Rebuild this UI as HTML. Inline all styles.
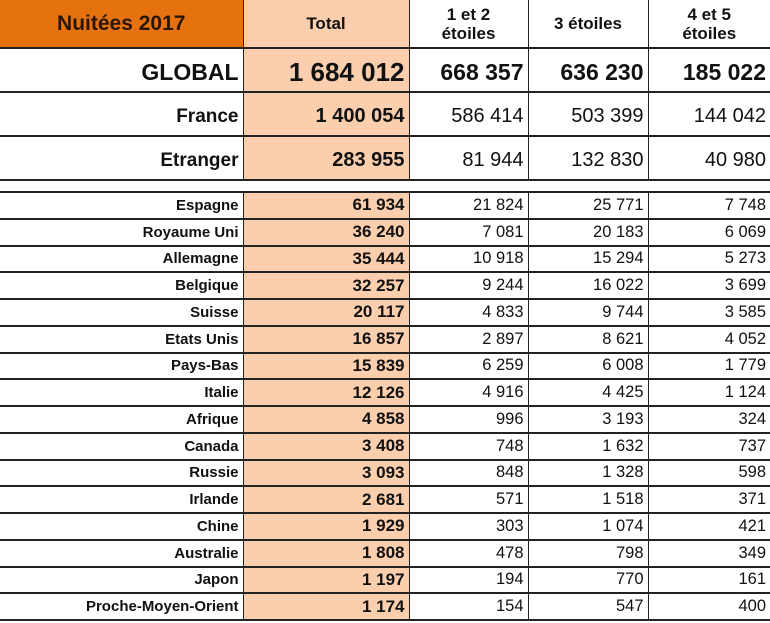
<!DOCTYPE html>
<html><head><meta charset="utf-8"><style>
body{margin:0;width:770px;height:623px;background:#fff;position:relative;overflow:hidden;font-family:"Liberation Sans",Arial,sans-serif;color:#111}
table{position:absolute;left:0;border-collapse:collapse;table-layout:fixed;width:770px}
td{padding:0 4px 0 0;text-align:right;border-right:1px solid #222;border-bottom:2px solid #222;white-space:nowrap;overflow:hidden;box-sizing:border-box}
td:last-child{border-right:none}
td.t{background:#fbcfae;font-weight:bold}
#t1{top:0}
#t1 tr.h td{height:48px;text-align:center;font-weight:bold;font-size:17px;line-height:19px;padding:0}
#t1 tr.h td.o{background:#e5720f;font-size:21px;color:#2a1606}
#t1 tr.g td{height:44px;font-size:23px;font-weight:bold;padding-top:4px}
#t1 tr.g td.t{font-size:26px}
#t1 tr.r td{height:44px;font-size:20px;padding-top:5px}
#t1 tr.r td:first-child{font-weight:bold;font-size:19px}
#t2{top:191px;border-top:2px solid #222}
#t2 td{height:26.75px;font-size:16.5px}
#t2 td.t{font-size:17px}
#t2 td:first-child{font-weight:bold;font-size:15px}
</style></head><body>
<table id="t1">
<colgroup><col style="width:243px"><col style="width:166px"><col style="width:119px"><col style="width:120px"><col style="width:122px"></colgroup>
<tr class="h"><td class="o">Nuitées 2017</td><td class="t">Total</td><td>1 et 2<br>étoiles</td><td>3 étoiles</td><td>4 et 5<br>étoiles</td></tr>
<tr class="g"><td>GLOBAL</td><td class="t">1 684 012</td><td>668 357</td><td>636 230</td><td>185 022</td></tr>
<tr class="r"><td>France</td><td class="t">1 400 054</td><td>586 414</td><td>503 399</td><td>144 042</td></tr>
<tr class="r"><td>Etranger</td><td class="t">283 955</td><td>81 944</td><td>132 830</td><td>40 980</td></tr>
</table>
<table id="t2">
<colgroup><col style="width:243px"><col style="width:166px"><col style="width:119px"><col style="width:120px"><col style="width:122px"></colgroup>
<tr><td>Espagne</td><td class="t">61 934</td><td>21 824</td><td>25 771</td><td>7 748</td></tr>
<tr><td>Royaume Uni</td><td class="t">36 240</td><td>7 081</td><td>20 183</td><td>6 069</td></tr>
<tr><td>Allemagne</td><td class="t">35 444</td><td>10 918</td><td>15 294</td><td>5 273</td></tr>
<tr><td>Belgique</td><td class="t">32 257</td><td>9 244</td><td>16 022</td><td>3 699</td></tr>
<tr><td>Suisse</td><td class="t">20 117</td><td>4 833</td><td>9 744</td><td>3 585</td></tr>
<tr><td>Etats Unis</td><td class="t">16 857</td><td>2 897</td><td>8 621</td><td>4 052</td></tr>
<tr><td>Pays-Bas</td><td class="t">15 839</td><td>6 259</td><td>6 008</td><td>1 779</td></tr>
<tr><td>Italie</td><td class="t">12 126</td><td>4 916</td><td>4 425</td><td>1 124</td></tr>
<tr><td>Afrique</td><td class="t">4 858</td><td>996</td><td>3 193</td><td>324</td></tr>
<tr><td>Canada</td><td class="t">3 408</td><td>748</td><td>1 632</td><td>737</td></tr>
<tr><td>Russie</td><td class="t">3 093</td><td>848</td><td>1 328</td><td>598</td></tr>
<tr><td>Irlande</td><td class="t">2 681</td><td>571</td><td>1 518</td><td>371</td></tr>
<tr><td>Chine</td><td class="t">1 929</td><td>303</td><td>1 074</td><td>421</td></tr>
<tr><td>Australie</td><td class="t">1 808</td><td>478</td><td>798</td><td>349</td></tr>
<tr><td>Japon</td><td class="t">1 197</td><td>194</td><td>770</td><td>161</td></tr>
<tr><td>Proche-Moyen-Orient</td><td class="t">1 174</td><td>154</td><td>547</td><td>400</td></tr>
</table>
</body></html>
